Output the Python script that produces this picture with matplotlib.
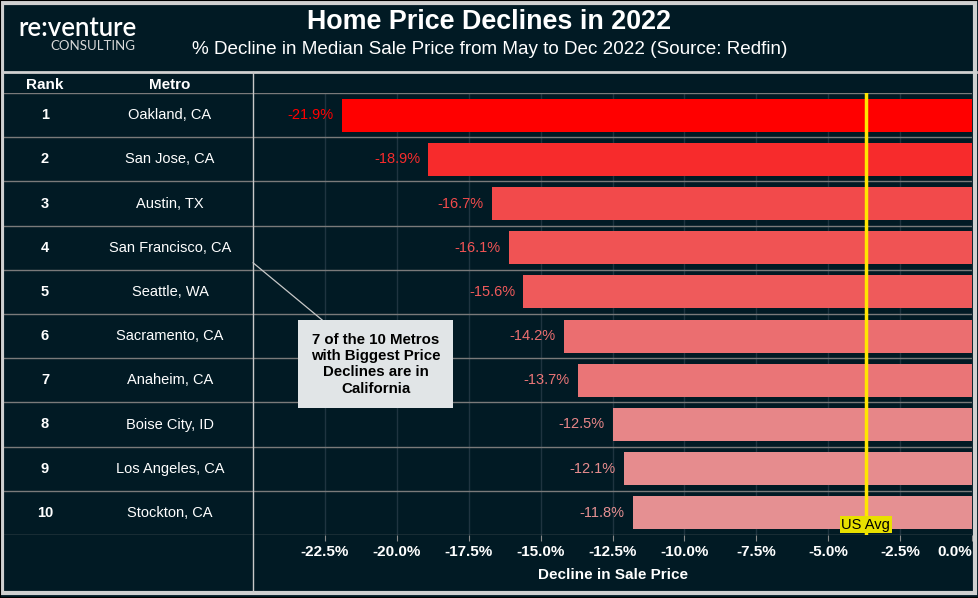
import matplotlib.pyplot as plt
import numpy as np
from matplotlib.colors import LinearSegmentedColormap, Normalize
from matplotlib.lines import Line2D
from matplotlib.patches import Rectangle

ranks = [1, 2, 3, 4, 5, 6, 7, 8, 9, 10]
metros = ['Oakland, CA', 'San Jose, CA', 'Austin, TX', 'San Francisco, CA', 'Seattle, WA',
          'Sacramento, CA', 'Anaheim, CA', 'Boise City, ID', 'Los Angeles, CA', 'Stockton, CA']
declines = [-21.9, -18.9, -16.7, -16.1, -15.6, -14.2, -13.7, -12.5, -12.1, -11.8]
us_avg = -3.7
xticks = [-22.5, -20.0, -17.5, -15.0, -12.5, -10.0, -7.5, -5.0, -2.5, 0.0]

bg = '#011a24'
plt.rcParams['font.family'] = ['Liberation Sans', 'DejaVu Sans']

W, H = 979, 598
fig = plt.figure(figsize=(W / 100, H / 100), dpi=100, facecolor=bg)

def fx(px):
    return px / W

def fy(py):
    return 1 - py / H

# axes: bars on the right, table on the left
ax = fig.add_axes([fx(253), fy(535), fx(972 - 253), (535 - 93) / H], facecolor=bg)
tab = fig.add_axes([fx(0), fy(535), fx(253), (535 - 93) / H], facecolor=bg)

n = len(metros)
y = np.arange(n)

cmap = LinearSegmentedColormap.from_list('reds', ['#ff0000', '#e59092'])
norm = Normalize(min(declines), max(declines))
colors = [cmap(norm(v)) for v in declines]

ax.barh(y, declines, height=0.75, color=colors, zorder=2)
for yi, v, c in zip(y, declines, colors):
    ax.annotate(f'{v:.1f}%', (v, yi), xytext=(-6, 0), textcoords='offset points',
                ha='right', va='center', color=c, fontsize=10.5, zorder=3)

ax.set_xlim(-25, 0)
ax.set_ylim(n - 0.5, -0.5)
ax.set_yticks([])
ax.set_xticks(xticks)
ax.set_xticklabels([f'{t:.1f}%' for t in xticks], fontweight='bold', color='white', fontsize=11)
ax.get_xticklabels()[-1].set_horizontalalignment('right')
ax.tick_params(axis='x', colors='#8a8a8a', length=4, pad=3, labelcolor='white')
ax.grid(axis='x', color='#1f3440', lw=1, zorder=0)
for s in ax.spines.values():
    s.set_visible(False)
ax.set_xlabel('Decline in Sale Price', color='white', fontweight='bold', fontsize=11, labelpad=7)

# US average line
ax.axvline(us_avg, color='#ffe600', lw=2.5, zorder=4)
ax.text(us_avg, 9.27, 'US Avg', ha='center', va='center', fontsize=10.5, color='black', zorder=5,
        bbox=dict(facecolor='#e8e000', edgecolor='none', pad=1.2))

# annotation box
ax.annotate('7 of the 10 Metros\nwith Biggest Price\nDeclines are in\nCalifornia',
            xy=(-25, 3.34), xytext=(-20.73, 5.64), ha='center', va='center',
            fontsize=10.8, fontweight='bold', color='black', linespacing=1.2,
            annotation_clip=False, zorder=6,
            bbox=dict(boxstyle='square,pad=0.85', facecolor='#e1e5e7', edgecolor='none'),
            arrowprops=dict(arrowstyle='-', color='#c8c8c8', lw=0.9, shrinkA=0, shrinkB=0))

# table
tab.set_xlim(0, 253)
tab.set_ylim(n - 0.5, -0.5)
tab.axis('off')
for yi, r, m in zip(y, ranks, metros):
    tab.text(45, yi, str(r), ha='center', va='center', color='white', fontweight='bold', fontsize=10.5)
    tab.text(170, yi, m, ha='center', va='center', color='white', fontsize=10.5)

# row separators
for b in np.arange(-0.5, n, 1.0):
    ax.axhline(b, color='#7a7a7a', lw=1, zorder=3)
    tab.axhline(b, color='#7a7a7a', lw=1)

# header
fig.text(fx(45), fy(85), 'Rank', ha='center', va='center', color='white', fontweight='bold', fontsize=11)
fig.text(fx(170), fy(85), 'Metro', ha='center', va='center', color='white', fontweight='bold', fontsize=11)

fig.text(0.5, fy(22), 'Home Price Declines in 2022', ha='center', va='center',
         color='white', fontweight='bold', fontsize=19.4)
fig.text(0.5, fy(50), '% Decline in Median Sale Price from May to Dec 2022 (Source: Redfin)',
         ha='center', va='center', color='white', fontsize=13.6)
fig.text(fx(78), fy(29), 're:venture', ha='center', va='center', color='white',
         fontsize=18.5, fontweight='semibold', family=['Lato', 'DejaVu Sans'])
fig.text(fx(93), fy(46), 'CONSULTING', ha='center', va='center', color='#d8d8d8',
         fontsize=9.5, family=['Lato', 'DejaVu Sans'])

# frame lines
fig.add_artist(Line2D([fx(3), fx(976)], [fy(72), fy(72)], color='#d0d0d0', lw=2))
fig.add_artist(Line2D([fx(253), fx(253)], [fy(72), fy(591)], color='#c8c8c8', lw=1))
fig.add_artist(Rectangle((fx(2.5), fy(593)), fx(973), (593 - 2.5) / H, fill=False,
                         edgecolor='#d0d0d0', lw=3))
fig.add_artist(Rectangle((0, 0), 1, 1, fill=False, edgecolor='black', lw=1.5))

fig.savefig('out.png', dpi=100, facecolor=bg)
